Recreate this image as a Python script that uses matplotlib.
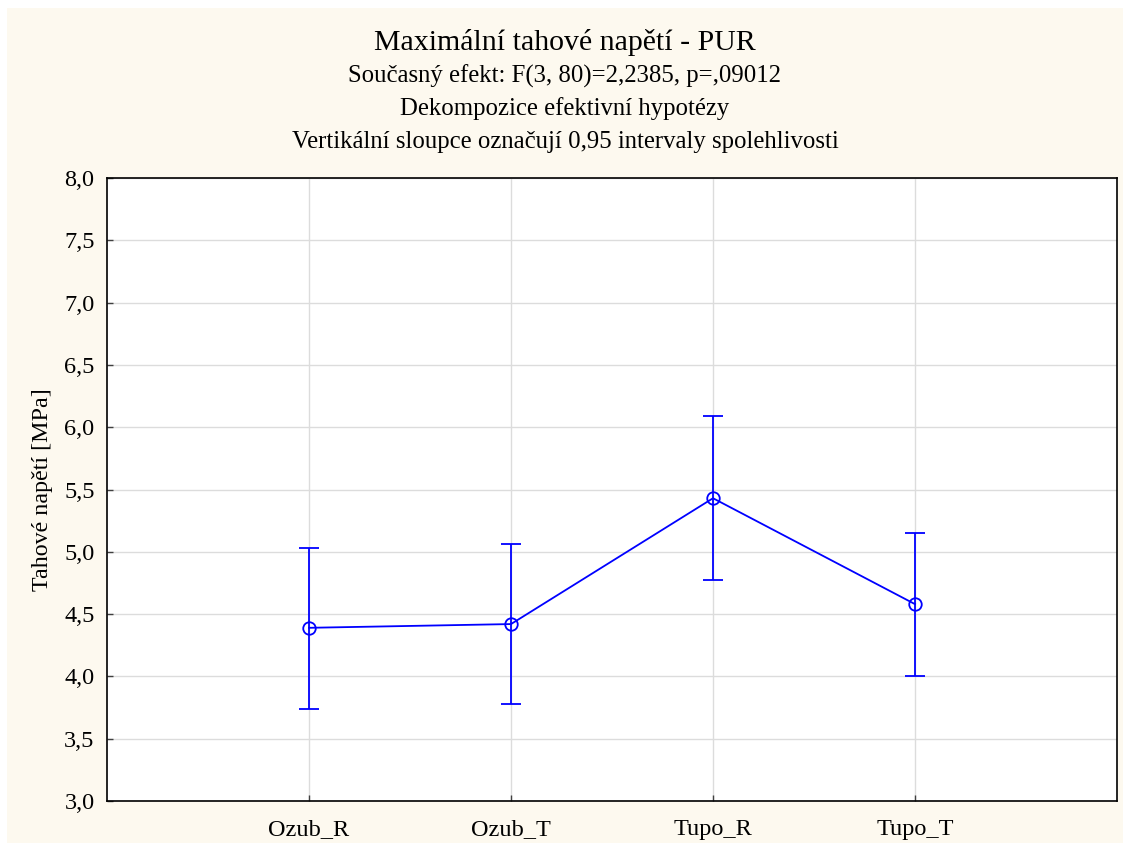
import matplotlib.pyplot as plt
from matplotlib.patches import Rectangle

skupiny = ['Ozub_R', 'Ozub_T', 'Tupo_R', 'Tupo_T']
prumery = [4.39, 4.42, 5.43, 4.58]
horni = [5.03, 5.06, 6.09, 5.15]
dolni = [3.74, 3.78, 4.77, 4.00]
yticky = [3.0, 3.5, 4.0, 4.5, 5.0, 5.5, 6.0, 6.5, 7.0, 7.5, 8.0]

plt.rcParams['font.family'] = ['Liberation Serif', 'DejaVu Serif']

fig = plt.figure(figsize=(11.3, 8.5), dpi=100)
fig.patch.set_facecolor('white')
# kremove pozadi s bilym okrajem
fig.patches.append(Rectangle((7/1130, 7/850), 1 - 14/1130, 1 - 15/850,
                             transform=fig.transFigure, facecolor='#fdf9ef',
                             edgecolor='none', zorder=-1))

ax = fig.add_axes([107/1130, 1 - 801/850, 1010/1130, 623/850])
ax.set_facecolor('white')

x = list(range(len(skupiny)))
chyby = [[m - d for m, d in zip(prumery, dolni)], [h - m for m, h in zip(prumery, horni)]]
ax.errorbar(x, prumery, yerr=chyby, color='#0000ff', lw=1.3, marker='o', ms=9,
            mfc='none', mec='#0000ff', mew=1.3, capsize=7, capthick=1.3, zorder=3)

ax.set_xlim(-1, 4)
ax.set_ylim(3, 8)
ax.set_xticks(x)
ax.set_xticklabels(skupiny, fontsize=17.5)
ax.set_yticks(yticky)
ax.set_yticklabels([f'{v:.1f}'.replace('.', ',') for v in yticky], fontsize=17.5)
ax.tick_params(axis='both', direction='in', length=4, width=1, color='#404040')
ax.tick_params(axis='x', pad=13)
ax.tick_params(axis='y', pad=9)
ax.grid(True, color='#dcdcdc', lw=1)
ax.set_axisbelow(True)
for s in ax.spines.values():
    s.set_linewidth(1.2)
    s.set_color('black')

ax.set_ylabel('Tahové napětí [MPa]', fontsize=17.3, labelpad=8)

fig.text(0.5, 1 - 43/850, 'Maximální tahové napětí - PUR', ha='center', va='center', fontsize=21.5)
fig.text(0.5, 1 - 76/850, 'Současný efekt: F(3, 80)=2,2385, p=,09012', ha='center', va='center', fontsize=17.8)
fig.text(0.5, 1 - 109/850, 'Dekompozice efektivní hypotézy', ha='center', va='center', fontsize=17.8)
fig.text(0.5, 1 - 142/850, 'Vertikální sloupce označují 0,95 intervaly spolehlivosti', ha='center', va='center', fontsize=17.8)

plt.savefig('out.png', dpi=100)
